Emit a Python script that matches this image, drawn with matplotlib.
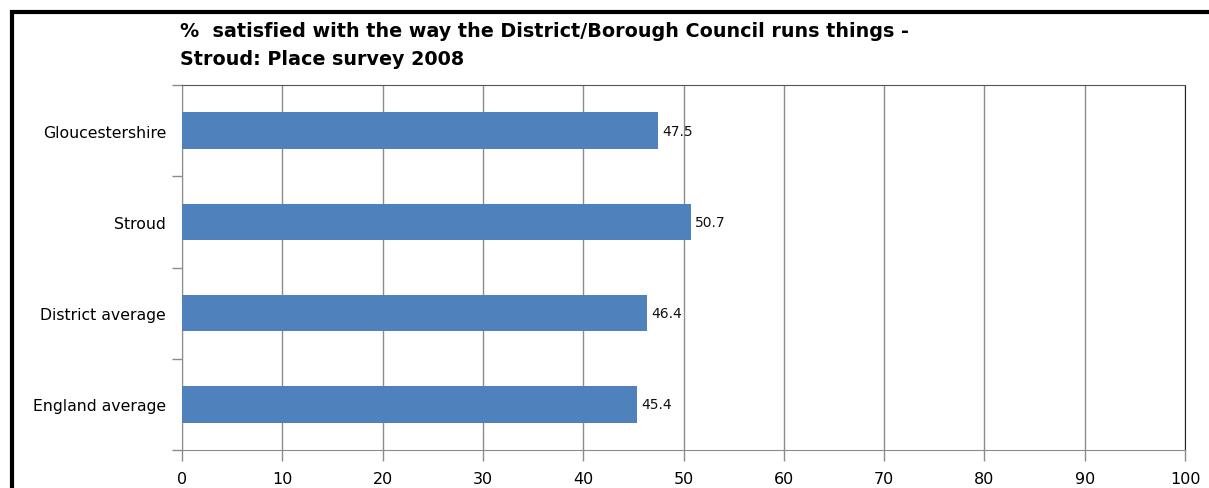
import matplotlib.pyplot as plt
from matplotlib.patches import Rectangle

areas = ['Gloucestershire', 'Stroud', 'District average', 'England average']
satisfied = [47.5, 50.7, 46.4, 45.4]
x_ticks = [0, 10, 20, 30, 40, 50, 60, 70, 80, 90, 100]

bar_colour = '#4F81BD'
grid_colour = '#8C8C8C'

fig = plt.figure(figsize=(12.09, 4.89), dpi=100)
ax = fig.add_axes([182 / 1209, 1 - 451 / 489, 1003 / 1209, 365 / 489])

# outer chart frame, runs off the bottom edge
fig.patches.append(Rectangle((11.5 / 1209, -0.2), 1.2, 1.2 - 13 / 489,
                             transform=fig.transFigure, fill=False,
                             edgecolor='black', linewidth=3, zorder=0))

pos = list(range(len(areas)))
bars = ax.barh(pos, satisfied, height=0.4, color=bar_colour, zorder=3)
for p, v in zip(pos, satisfied):
    ax.annotate(f'{v}', xy=(v, p), xytext=(3, 0), textcoords='offset points',
                ha='left', va='center', fontsize=10, color='#111111', zorder=4)

ax.set_xlim(0, 100)
ax.set_ylim(len(areas) - 0.5, -0.5)
ax.set_xticks(x_ticks)
ax.set_xticklabels([str(t) for t in x_ticks], fontsize=11.5)
ax.set_yticks(pos)
ax.set_yticklabels(areas, fontsize=11.3)
ax.tick_params(axis='y', length=0, pad=11.5)
ax.set_yticks([p - 0.5 for p in pos] + [len(areas) - 0.5], minor=True)
ax.tick_params(axis='y', which='minor', length=7, color=grid_colour, width=1)
ax.tick_params(axis='x', length=8, color=grid_colour, width=1, pad=7)

ax.xaxis.grid(True, color=grid_colour, linewidth=1, zorder=0)
ax.set_axisbelow(True)
for side in ['left', 'bottom']:
    ax.spines[side].set_color(grid_colour)
ax.spines['top'].set_color('#555555')
ax.spines['right'].set_color('#222222')

fig.text(180 / 1209, 1 - 22 / 489,
         '%  satisfied with the way the District/Borough Council runs things -\n'
         'Stroud: Place survey 2008',
         ha='left', va='top', fontsize=13.8, fontweight='bold', linespacing=1.6)

fig.savefig('out.png', dpi=100)
